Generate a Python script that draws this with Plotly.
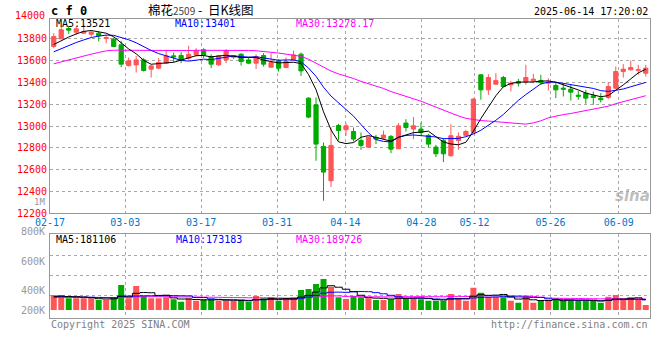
import plotly.graph_objects as go

# ---------------- data ----------------
tick_labels = ["02-17", "03-03", "03-17", "03-31", "04-14", "04-28", "05-12", "05-26", "06-09"]
tick_index = [0, 10, 20, 30, 39, 49, 56, 66, 75]
price_ticks = [12200, 12400, 12600, 12800, 13000, 13200, 13400, 13600, 13800]

opens = [13730, 13800, 13895, 13861, 13852, 13843, 13852, 13803, 13797, 13745,
         13555, 13561, 13607, 13522, 13531, 13577, 13644, 13647, 13623, 13653,
         13699, 13638, 13562, 13607, 13632, 13659, 13607, 13577, 13647, 13540,
         13598, 13537, 13607, 13659, 13256, 13195, 12813, 12498, 13005, 12965,
         12950, 12868, 12806, 12895, 12889, 12905, 12791, 13027, 12972, 12972,
         12914, 12807, 12868, 12727, 12868, 12914, 12941, 13470, 13332, 13384,
         13445, 13378, 13409, 13403, 13415, 13418, 13393, 13372, 13348, 13338,
         13283, 13302, 13277, 13256, 13262, 13347, 13500, 13516, 13512, 13485]
highs = [13852, 13913, 13919, 13913, 13928, 13876, 13867, 13837, 13812, 13782,
         13629, 13644, 13623, 13561, 13623, 13699, 13675, 13678, 13736, 13714,
         13714, 13659, 13653, 13705, 13653, 13669, 13632, 13659, 13669, 13669,
         13614, 13629, 13693, 13675, 13265, 13262, 12849, 12987, 13020, 13027,
         12987, 12941, 12904, 12920, 12959, 12917, 13027, 13063, 13082, 13033,
         12929, 12828, 12889, 13017, 12941, 12965, 13256, 13476, 13476, 13485,
         13461, 13415, 13433, 13562, 13479, 13470, 13439, 13403, 13393, 13378,
         13323, 13332, 13317, 13302, 13400, 13546, 13568, 13601, 13561, 13561]
lows = [13714, 13795, 13846, 13837, 13852, 13821, 13776, 13760, 13724, 13540,
        13546, 13491, 13500, 13445, 13522, 13571, 13583, 13577, 13607, 13638,
        13623, 13531, 13552, 13577, 13614, 13555, 13568, 13522, 13546, 13540,
        13500, 13531, 13598, 13460, 13072, 12681, 12314, 12440, 12868, 12910,
        12858, 12782, 12803, 12834, 12880, 12751, 12788, 12950, 12880, 12920,
        12803, 12715, 12669, 12721, 12782, 12910, 12929, 13241, 13286, 13378,
        13354, 13317, 13363, 13378, 13393, 13378, 13326, 13256, 13271, 13234,
        13241, 13204, 13195, 13216, 13247, 13338, 13445, 13510, 13470, 13455]
closes = [13821, 13883, 13880, 13892, 13867, 13861, 13828, 13812, 13730, 13568,
          13598, 13607, 13510, 13552, 13583, 13644, 13635, 13601, 13659, 13690,
          13653, 13568, 13644, 13690, 13647, 13592, 13577, 13638, 13568, 13583,
          13531, 13592, 13653, 13506, 13082, 12834, 12577, 12822, 12959, 13002,
          12880, 12822, 12898, 12880, 12917, 12788, 13002, 12987, 13002, 12941,
          12834, 12745, 12745, 12911, 12905, 12950, 13247, 13332, 13445, 13418,
          13363, 13393, 13393, 13445, 13430, 13400, 13403, 13332, 13338, 13311,
          13274, 13256, 13262, 13241, 13363, 13500, 13522, 13537, 13517, 13531]
volumes_k = [258, 258, 200, 200, 200, 200, 172, 172, 218, 430,
             200, 413, 241, 200, 200, 218, 183, 143, 200, 160,
             183, 183, 160, 160, 160, 172, 143, 241, 200, 218,
             160, 172, 218, 344, 361, 447, 533, 401, 218, 189,
             241, 218, 200, 172, 172, 183, 275, 189, 200, 183,
             160, 160, 160, 275, 200, 160, 384, 298, 218, 218,
             218, 160, 126, 246, 126, 160, 160, 200, 160, 172,
             160, 160, 160, 126, 229, 258, 172, 218, 172, 86]
# closes / volumes before 02-17 (not drawn), estimated from where the MA lines start
prior_closes = [13320, 13340, 13350, 13360, 13350, 13360, 13370,
                13560, 13580, 13600, 13620, 13590, 13610, 13630, 13600, 13620, 13610, 13590, 13620, 13640,
                13580, 13600, 13620, 13630, 13640,
                13700, 13720, 13749, 13750]
prior_volumes_k = [200, 215, 205, 220, 210, 195, 215, 210, 205, 220,
                   210, 200, 215, 210, 205, 220, 210, 205, 215, 215,
                   215, 225, 220, 230, 215,
                   210, 230, 222, 225]

header_main = ["MA5:13521", "MA10:13401", "MA30:13278.17"]
header_vol = ["MA5:181106", "MA10:173183", "MA30:189726"]
vol_labels = ["800K", "600K", "400K", "200K"]

# ---------------- helpers ----------------
W, H = 660, 360
MONO = "DejaVu Sans Mono"
RED, GREEN = "#ff5555", "#00aa00"


def sma(series, prior, n):
    full = list(prior) + list(series)
    out = []
    for i in range(len(series)):
        j = len(prior) + i
        out.append(sum(full[j - n + 1:j + 1]) / n)
    return out


def px(x):
    return x / W


def py(y):
    return 1 - y / H


n = len(closes)
xs = list(range(n))
volumes = [v * 1000 for v in volumes_k]
prior_volumes = [v * 1000 for v in prior_volumes_k]
vol_colors = [RED if c >= o else GREEN for o, c in zip(opens, closes)]

fig = go.Figure()
fig.add_trace(go.Candlestick(
    x=xs, open=opens, high=highs, low=lows, close=closes,
    increasing=dict(line=dict(color=RED, width=1), fillcolor=RED),
    decreasing=dict(line=dict(color=GREEN, width=1), fillcolor=GREEN),
    whiskerwidth=0, hoverinfo="skip", xaxis="x", yaxis="y", showlegend=False))
for period, col in [(30, "#ff00ff"), (10, "#0000ff"), (5, "#000000")]:
    fig.add_trace(go.Scatter(x=xs, y=sma(closes, prior_closes, period), mode="lines",
                             line=dict(color=col, width=1), hoverinfo="skip",
                             xaxis="x", yaxis="y", showlegend=False))

fig.add_trace(go.Bar(x=xs, y=volumes, marker=dict(color=vol_colors, line=dict(width=0)),
                     xaxis="x2", yaxis="y2", hoverinfo="skip", showlegend=False))
for period, col in [(30, "#ff00ff"), (10, "#0000ff"), (5, "#000000")]:
    fig.add_trace(go.Scatter(x=xs, y=sma(volumes, prior_volumes, period), mode="lines",
                             line=dict(color=col, width=1, shape="hvh"), hoverinfo="skip",
                             xaxis="x2", yaxis="y2", showlegend=False))

tickvals = [max(-0.49, t * 7.6 / 7.5 - 0.6) for t in tick_index]
xdom = [px(50), px(649.5)]
grid = dict(showgrid=True, gridcolor="#a8a8a8", griddash="dot", gridwidth=1)
frame = dict(showline=True, linecolor="#999999", linewidth=1, mirror=True, zeroline=False,
             automargin=False)

fig.update_layout(
    width=W, height=H, autosize=False,
    margin=dict(l=0, r=0, t=0, b=0),
    paper_bgcolor="white", plot_bgcolor="white",
    boxgap=0.2, bargap=0.2,
    font=dict(family=MONO, size=10, color="#000"),
    xaxis=dict(domain=xdom, anchor="y", range=[-0.5, n - 0.5], tickmode="array",
               tickvals=tickvals, ticktext=tick_labels, ticks="",
               tickfont=dict(family=MONO, size=10, color="#0077cc"),
               rangeslider=dict(visible=False), **grid, **frame),
    yaxis=dict(domain=[py(213.2), py(18.7)], anchor="x", range=[12200, 13985],
               tickmode="array", tickvals=price_ticks, ticktext=[str(v) for v in price_ticks],
               ticks="", tickfont=dict(family=MONO, size=10, color="#ff0000"),
               **grid, **frame),
    xaxis2=dict(domain=xdom, anchor="y2", range=[-0.5, n - 0.5], tickmode="array",
                tickvals=tickvals, showticklabels=False, ticks="", **grid, **frame),
    yaxis2=dict(domain=[py(318.3), py(234.2)], anchor="x2", range=[-142800, 1303800],
                tickmode="array", tickvals=[241000, 590000, 946000], showticklabels=False,
                ticks="", **grid, **frame),
)

ann = []


def text(x, y, s, color="#000", size=10, anchor="left", family=MONO, **kw):
    ann.append(dict(x=px(x), y=py(y), xref="paper", yref="paper", text=s, showarrow=False,
                    xanchor=anchor, yanchor="middle", font=dict(family=family, size=size, color=color),
                    **kw))


text(49, 11, "<b>c f 0</b>", size=12)
text(201, 9.5, "棉花<span style='font-size:10px;color:#444'>2509</span> -  日K线图",
     size=12.5, anchor="center", family="Noto Sans CJK SC")
text(650, 12, "2025-06-14 17:20:02", anchor="right")
text(47, 15.6, "14000", color="#ff0000", anchor="right")
text(47, 201.5, "1M", color="#999999", anchor="right", size=9)
text(54, 23.5, header_main[0], color="#000000")
text(173, 24, header_main[1], color="#0000ff")
text(294, 24, header_main[2], color="#ff00ff")
text(54, 239, header_vol[0], color="#000000")
text(174, 239, header_vol[1], color="#0000ff")
text(294, 239, header_vol[2], color="#ff00ff")
for lab, yy in zip(vol_labels, [231, 261, 290, 310.5]):
    text(47, yy, lab, color="#999999", anchor="right")
text(49, 324.5, "Copyright 2025 SINA.COM", color="#808080")
text(650, 324.5, "http://finance.sina.com.cn", color="#808080", anchor="right")
text(632, 196, "<b><i>sina</i></b>", color="rgba(170,170,170,0.75)", size=15, anchor="center",
     family="DejaVu Sans")
fig.update_layout(annotations=ann)

# remove the browser's default 8px page margin so the figure sits at the window origin
fig.write_html("out.html", config={"displayModeBar": False},
               post_script="document.body.style.margin='0';")
